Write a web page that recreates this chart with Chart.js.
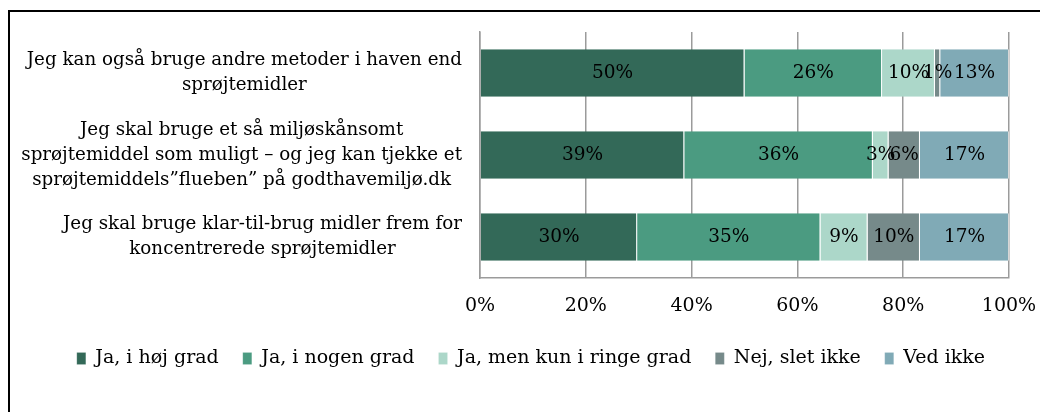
<!DOCTYPE html>
<html>
<head>
<meta charset="utf-8">
<script src="https://cdn.jsdelivr.net/npm/chart.js@4.4.1/dist/chart.umd.min.js"></script>
<style>
  html, body { margin: 0; padding: 0; background: #fff; overflow: hidden; }
  #wrap { position: relative; width: 1040px; height: 412px; overflow: hidden; }
  #frame { position: absolute; left: 8px; top: 10px; width: 1100px; height: 500px;
           border-left: 2px solid #000; border-top: 2px solid #000; }
  canvas { position: absolute; left: 0; top: 0; }
</style>
</head>
<body>
<div id="wrap">
  <div id="frame"></div>
  <canvas id="c" width="1040" height="412"></canvas>
</div>
<script>
// Statements (one line per array entry)
const categories = [
  ['Jeg kan også bruge andre metoder i haven end', 'sprøjtemidler'],
  ['Jeg skal bruge et så miljøskånsomt', 'sprøjtemiddel som muligt – og jeg kan tjekke et', 'sprøjtemiddels”flueben” på godthavemiljø.dk'],
  ['Jeg skal bruge klar-til-brug midler frem for', 'koncentrerede sprøjtemidler']
];

// Answer categories
const seriesNames = ['Ja, i høj grad', 'Ja, i nogen grad', 'Ja, men kun i ringe grad', 'Nej, slet ikke', 'Ved ikke'];

// Share of respondents (%) per statement
const jaHoejGrad  = [50, 39, 30];
const jaNogenGrad = [26, 36, 35];
const jaRingeGrad = [10, 3, 9];
const nejSletIkke = [1, 6, 10];
const vedIkke     = [13, 17, 17];

const tickLabels = ['0%', '20%', '40%', '60%', '80%', '100%'];

const seriesColors = ['#336958', '#4b9b81', '#acd7c9', '#768a8a', '#80aab6'];

const FONT = '"DejaVu Serif", "Liberation Serif", Georgia, serif';

const seriesValues = [jaHoejGrad, jaNogenGrad, jaRingeGrad, nejSletIkke, vedIkke];

// 100% stacked: each row is scaled by its own total
const rowTotals = categories.map((_, j) => seriesValues.reduce((s, arr) => s + arr[j], 0));

const datasets = seriesValues.map((vals, i) => ({
  label: seriesNames[i],
  rawValues: vals,
  data: vals.map((v, j) => v / rowTotals[j] * 100),
  backgroundColor: seriesColors[i],
  borderColor: 'rgba(255,255,255,0.6)',
  borderWidth: { left: 0, right: 1, top: 0, bottom: 0 },
  borderSkipped: false,
  categoryPercentage: 1,
  barPercentage: 0.578
}));

// Percent labels in the middle of every segment
const valueLabels = {
  id: 'valueLabels',
  afterDatasetsDraw(chart) {
    const ctx = chart.ctx;
    ctx.save();
    ctx.font = '18.5px ' + FONT;
    ctx.fillStyle = '#000';
    ctx.textAlign = 'center';
    ctx.textBaseline = 'middle';
    chart.data.datasets.forEach((ds, i) => {
      chart.getDatasetMeta(i).data.forEach((bar, j) => {
        const p = bar.getProps(['x', 'y', 'base'], true);
        ctx.fillText(ds.rawValues[j] + '%', (p.x + p.base) / 2, p.y);
      });
    });
    ctx.restore();
  }
};

// Statement labels: blocks right-aligned to the axis, lines centred within a block
const categoryLabels = {
  id: 'categoryLabels',
  afterDraw(chart) {
    const ctx = chart.ctx;
    const yScale = chart.scales.y;
    const lineH = 25;
    const rightEdge = chart.chartArea.left - 18;
    ctx.save();
    ctx.font = '18.3px ' + FONT;
    ctx.fillStyle = '#000';
    ctx.textAlign = 'center';
    ctx.textBaseline = 'middle';
    categories.forEach((lines, i) => {
      const cy = yScale.getPixelForValue(i);
      const maxW = Math.max(...lines.map(l => ctx.measureText(l).width));
      const cx = rightEdge - maxW / 2;
      const y0 = cy - (lines.length - 1) * lineH / 2;
      lines.forEach((l, k) => ctx.fillText(l, cx, y0 + k * lineH));
    });
    ctx.restore();
  }
};

new Chart(document.getElementById('c'), {
  type: 'bar',
  data: { labels: categories.map(c => c.join(' ')), datasets },
  options: {
    indexAxis: 'y',
    responsive: false,
    animation: false,
    events: [],
    layout: { padding: { top: 32, right: 31, bottom: 34, left: 0 } },
    scales: {
      x: {
        stacked: true,
        min: 0,
        max: 100,
        ticks: {
          stepSize: 20,
          padding: 17,
          color: '#000',
          font: { family: FONT, size: 19 },
          callback: (v) => tickLabels[Math.round(v / 20)]
        },
        grid: { color: '#9b9b9b', lineWidth: 1.5, drawTicks: false },
        border: { display: true, color: '#9b9b9b', width: 1.5 },
        afterFit: (s) => { s.height = 47; s.paddingRight = 0; s.paddingLeft = 0; }
      },
      y: {
        stacked: true,
        ticks: { display: false },
        grid: { display: true, color: 'rgba(0,0,0,0)', drawTicks: false },
        border: { display: true, color: '#9b9b9b', width: 1.5 },
        afterFit: (s) => { s.width = 480; }
      }
    },
    plugins: {
      tooltip: { enabled: false },
      legend: {
        position: 'bottom',
        align: 'end',
        labels: {
          color: '#000',
          font: { family: FONT, size: 19 },
          boxWidth: 9,
          boxHeight: 12,
          padding: 24
        }
      }
    }
  },
  plugins: [valueLabels, categoryLabels]
});
</script>
</body>
</html>
